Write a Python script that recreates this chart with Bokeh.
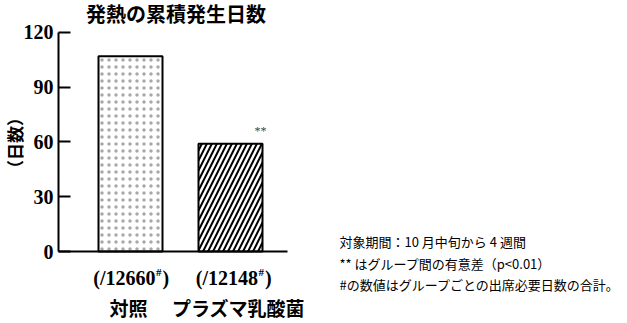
from math import pi
from bokeh.plotting import figure
from bokeh.models import Range1d, FixedTicker, LinearAxis
from bokeh.core.properties import value
from bokeh.embed import file_html
from bokeh.resources import INLINE

# ---- data ----
groups = ["対照", "プラズマ乳酸菌"]
totals = ["12660", "12148"]
fever_days = [107, 59]
y_ticks = [0, 30, 60, 90, 120]
title_text = "発熱の累積発生日数"
y_label = "（日数）"
sig_mark = "**"
notes = [
    "対象期間：10 月中旬から 4 週間",
    "** はグループ間の有意差（p<0.01）",
    "#の数値はグループごとの出席必要日数の合計。",
]

xs = list(range(len(groups)))
JP = value("Noto Sans CJK JP")
SERIF = value("Liberation Serif")

X0, X1 = -0.72, 1.57
p = figure(width=627, height=323, output_backend="svg", toolbar_location=None,
           x_range=Range1d(-1.30, 4.97), y_range=Range1d(-39.45, 137.53),
           x_axis_location=None, y_axis_location=None,
           min_border=0)
p.outline_line_color = None
p.grid.visible = False
p.background_fill_color = "white"
p.border_fill_color = "white"

ya = LinearAxis(fixed_location=X0, bounds=(0, 120), ticker=FixedTicker(ticks=y_ticks))
ya.major_tick_in = 12
ya.major_tick_out = 0
ya.minor_tick_line_color = None
ya.axis_line_width = 2
ya.major_tick_line_width = 2
ya.major_label_text_font = "Liberation Serif"
ya.major_label_text_font_style = "bold"
ya.major_label_text_font_size = "20px"
ya.major_label_text_color = "black"
ya.major_label_standoff = 5
p.add_layout(ya, "left")

xa = LinearAxis(fixed_location=0, bounds=(X0, X1), ticker=FixedTicker(ticks=[]))
xa.axis_line_width = 2
xa.major_tick_line_color = None
xa.minor_tick_line_color = None
xa.major_label_text_color = None
p.add_layout(xa, "below")

p.vbar(x=[xs[0]], top=[fever_days[0]], width=0.64, bottom=0,
       fill_color="white", line_color="black", line_width=2,
       hatch_pattern=".", hatch_scale=7, hatch_weight=1, hatch_color="#a8a8a8")
p.vbar(x=[xs[1]], top=[fever_days[1]], width=0.64, bottom=0,
       fill_color="white", line_color="black", line_width=2,
       hatch_pattern="/", hatch_scale=10, hatch_weight=2, hatch_color="black")

# significance mark
p.text(x=[xs[1]], y=[fever_days[1]], text=[sig_mark], x_offset=30, y_offset=-6,
       text_font=SERIF, text_font_size="12px", text_color="#444444",
       text_align="center", text_baseline="bottom")

# title
p.text(x=[0.455], y=[120], text=[title_text], y_offset=-19, text_font=JP,
       text_font_style="bold", text_font_size="20px",
       text_align="center", text_baseline="middle", text_color="black")

# y label
p.text(x=[-1.165], y=[59.5], text=[y_label], angle=pi / 2, text_font=JP,
       text_font_style="bold", text_font_size="17px",
       text_align="center", text_baseline="middle", text_color="black")

# category labels
end_offsets = [25, 27.5]
name_offsets = [-2, 8]
for i, x in enumerate(xs):
    eo = end_offsets[i]
    p.text(x=[x], y=[0], x_offset=eo, y_offset=26, text=["(/" + totals[i]],
           text_font=SERIF, text_font_style="bold", text_font_size="20px",
           text_align="right", text_baseline="middle", text_color="black")
    p.text(x=[x], y=[0], x_offset=eo + 0.5, y_offset=20, text=["#"],
           text_font=SERIF, text_font_style="bold", text_font_size="11px",
           text_align="left", text_baseline="middle", text_color="black")
    p.text(x=[x], y=[0], x_offset=eo + 7, y_offset=26, text=[")"],
           text_font=SERIF, text_font_style="bold", text_font_size="20px",
           text_align="left", text_baseline="middle", text_color="black")
    p.text(x=[x], y=[0], x_offset=name_offsets[i], y_offset=56, text=[groups[i]],
           text_font=JP, text_font_style="bold", text_font_size="19px",
           text_align="center", text_baseline="middle", text_color="black")

# notes
for k, line in enumerate(notes):
    p.text(x=[2.09], y=[0], y_offset=-10 + 21.5 * k, text=[line],
           text_font=JP, text_font_size="13px", text_color="black",
           text_align="left", text_baseline="middle")

open("out.html", "w").write(file_html(p, INLINE))
